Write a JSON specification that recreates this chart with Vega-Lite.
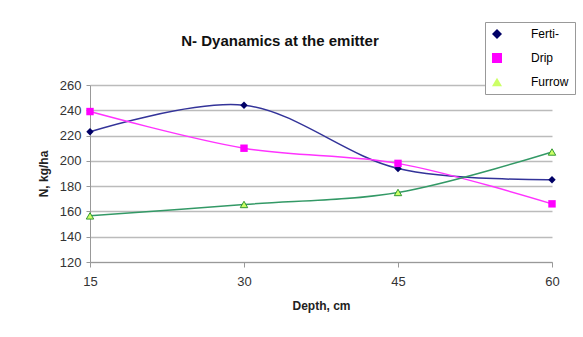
{
  "$schema": "https://vega.github.io/schema/vega-lite/v6.json",
  "width": 462,
  "height": 177,
  "autosize": "none",
  "padding": {"left": 90, "top": 85, "right": 31, "bottom": 75},
  "background": "white",
  "title": {
    "text": "N- Dyanamics at the emitter",
    "font": "Liberation Sans",
    "fontSize": 15,
    "fontWeight": "bold",
    "color": "#111111",
    "anchor": "middle",
    "frame": "group",
    "dx": -41,
    "offset": 0,
    "dy": 27
  },
  "data": {
    "values": [
      {"depth": 15, "series": "Ferti-", "n": 223},
      {"depth": 30, "series": "Ferti-", "n": 244},
      {"depth": 45, "series": "Ferti-", "n": 194},
      {"depth": 60, "series": "Ferti-", "n": 185},
      {"depth": 15, "series": "Drip", "n": 239},
      {"depth": 30, "series": "Drip", "n": 210},
      {"depth": 45, "series": "Drip", "n": 198},
      {"depth": 60, "series": "Drip", "n": 166},
      {"depth": 15, "series": "Furrow", "n": 156.5},
      {"depth": 30, "series": "Furrow", "n": 165.5},
      {"depth": 45, "series": "Furrow", "n": 175},
      {"depth": 60, "series": "Furrow", "n": 207}
    ]
  },
  "encoding": {
    "x": {
      "field": "depth",
      "type": "quantitative",
      "scale": {"domain": [15, 60], "nice": false, "zero": false},
      "axis": {
        "values": [15, 30, 45, 60],
        "grid": false,
        "labelFlush": false,
        "title": "Depth, cm",
        "titleFont": "Liberation Sans",
        "titleFontSize": 12,
        "titleFontWeight": "bold",
        "titleColor": "#222222",
        "titlePadding": 12,
        "labelFont": "Liberation Sans",
        "labelFontSize": 13,
        "labelColor": "#333333",
        "labelPadding": 8,
        "tickSize": 5,
        "tickColor": "#999999",
        "domainColor": "#999999"
      }
    },
    "y": {
      "field": "n",
      "type": "quantitative",
      "scale": {"domain": [120, 260], "nice": false, "zero": false},
      "axis": {
        "values": [120, 140, 160, 180, 200, 220, 240, 260],
        "grid": true,
        "gridColor": "#bbbbbb",
        "gridWidth": 1.3,
        "labelFlush": false,
        "title": "N, kg/ha",
        "titleFont": "Liberation Sans",
        "titleFontSize": 12,
        "titleFontWeight": "bold",
        "titleColor": "#222222",
        "titlePadding": 9,
        "labelFont": "Liberation Sans",
        "labelFontSize": 13,
        "labelColor": "#333333",
        "labelPadding": 5,
        "tickSize": 4,
        "tickColor": "#999999",
        "domainColor": "#999999"
      }
    }
  },
  "layer": [
    {
      "mark": {"type": "line", "interpolate": "catmull-rom", "strokeWidth": 1.5},
      "encoding": {
        "detail": {"field": "series", "type": "nominal"},
        "stroke": {
          "field": "series",
          "type": "nominal",
          "scale": {"domain": ["Drip", "Ferti-", "Furrow"], "range": ["#ff33ff", "#333399", "#339966"]},
          "legend": null
        }
      }
    },
    {
      "mark": {"type": "point", "filled": true, "size": 55, "opacity": 1},
      "encoding": {
        "color": {
          "field": "series",
          "type": "nominal",
          "scale": {"domain": ["Ferti-", "Drip", "Furrow"], "range": ["#000066", "#ff00ff", "#ccff66"]},
          "legend": {
            "title": null,
            "orient": "none",
            "legendX": 395,
            "legendY": -63,
            "strokeColor": "#999999",
            "fillColor": "white",
            "padding": 6,
            "labelFont": "Liberation Sans",
            "labelFontSize": 12,
            "labelColor": "#000000",
            "labelOffset": 28,
            "rowPadding": 12,
            "symbolSize": 100,
            "symbolStrokeWidth": 1.5
          }
        },
        "shape": {
          "field": "series",
          "type": "nominal",
          "scale": {"domain": ["Ferti-", "Drip", "Furrow"], "range": ["diamond", "square", "triangle-up"]}
        }
      }
    },
    {
      "transform": [{"filter": "datum.series === 'Furrow'"}],
      "mark": {"type": "point", "filled": false, "shape": "triangle-up", "size": 55, "opacity": 1, "stroke": "#339933", "strokeWidth": 1}
    }
  ],
  "config": {"view": {"stroke": null}}
}
